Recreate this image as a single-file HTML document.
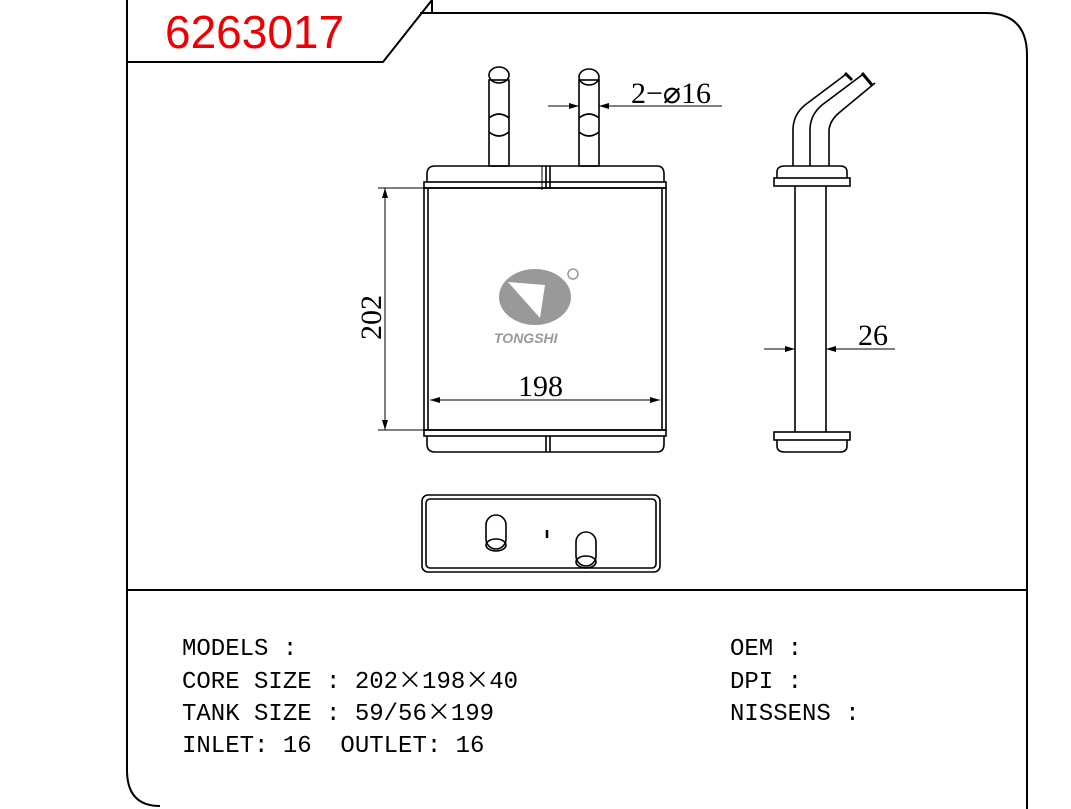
<!DOCTYPE html>
<html><head><style>
body{margin:0;background:#fff;}
svg{display:block}
.t{font-family:"Liberation Mono","Noto Sans CJK SC",monospace;font-size:24px;fill:#000}
.x{font-family:"Noto Sans CJK SC",sans-serif;font-size:24px}
.d{font-family:"Liberation Serif",serif;font-size:30px;fill:#000}
</style></head><body>
<svg width="1071" height="809" viewBox="0 0 1071 809" xmlns="http://www.w3.org/2000/svg">
<g fill="none" stroke="#000" stroke-width="2">
<path d="M127 0 V770 Q127 806 160 806"/>
<path d="M127 62 H383 L432 0"/>
<path d="M420 13 H985 Q1027 13 1027 55 V809"/>
<path d="M432 0 V13"/>
<path d="M127 590 H1027"/>
</g>
<text x="165" y="48" font-family="Liberation Sans,sans-serif" font-size="46" fill="#e00">6263017</text>

<g fill="none" stroke="#000" stroke-width="1.6">
<rect x="489" y="80" width="20" height="86"/>
<ellipse cx="499" cy="75" rx="10" ry="8"/>
<path d="M489 118 Q499 110 509 118 M489 132 Q499 140 509 132"/>
<rect x="579" y="80" width="20" height="86"/>
<ellipse cx="589" cy="77" rx="10" ry="8"/>
<path d="M579 118 Q589 110 599 118 M579 132 Q589 140 599 132"/>
<path d="M427 182 V174 Q427 166 435 166 H657 Q664 166 664 174 V182"/>
<rect x="424" y="182" width="242" height="6"/>
<path d="M546 166 V188 M550 166 V188"/>
<rect x="424" y="188" width="242" height="242"/>
<path d="M428 188 V430 M662 188 V430"/>
<rect x="424" y="430" width="242" height="6"/>
<path d="M427 436 V444 Q427 452 435 452 H657 Q664 452 664 444 V436"/>
<path d="M546 436 V452 M550 436 V452"/>
<rect x="422" y="495" width="238" height="77" rx="6"/>
<rect x="426" y="499" width="230" height="69" rx="4"/>
<rect x="486" y="515" width="20" height="34" rx="10"/>
<ellipse cx="496" cy="545" rx="10" ry="6"/>
<rect x="576" y="532" width="20" height="34" rx="10"/>
<ellipse cx="586" cy="562" rx="10" ry="6"/>
<path d="M547 530 V538" stroke-width="2.5"/>
<path d="M793 166 V130 Q793 115 805 105 L845 75"/>
<path d="M810 166 V130 Q810 115 822 105 L862 75"/>
<path d="M829 166 V130 Q830 120 840 112 L875 83"/>
<path d="M845 73 L852 80 M862 73 L872 85" stroke-width="3"/>
<path d="M777 178 V172 Q777 166 785 166 H840 Q847 166 847 172 V178"/>
<rect x="774" y="178" width="76" height="8"/>
<path d="M795 186 V432 M826 186 V432"/>
<rect x="774" y="432" width="76" height="8"/>
<path d="M777 440 V446 Q777 452 785 452 H840 Q847 452 847 446 V440"/>
</g>
<g stroke="#000" stroke-width="1" fill="none">
<path d="M378 188 H424 M378 430 H424 M385 188 V430"/>
<path d="M430 400 H660 M428 396 V406 M662 396 V406"/>
<path d="M548 106 H579 M599 106 H722"/>
<path d="M764 349 H795 M826 349 H895"/>
<path d="M542 166 V190"/>
</g>
<g fill="#000">
<path d="M385 188 l-3 10 h6z M385 430 l-3 -10 h6z"/>
<path d="M430 400 l10 -3 v6z M660 400 l-10 -3 v6z"/>
<path d="M579 106 l-10 -3 v6z M599 106 l10 -3 v6z"/>
<path d="M795 349 l-10 -3 v6z M826 349 l10 -3 v6z"/>
</g>
<text class="d" x="631" y="103">2−⌀16</text>
<text class="d" x="518" y="396">198</text>
<text class="d" x="858" y="345">26</text>
<text class="d" transform="translate(381 340) rotate(-90)">202</text>
<ellipse cx="535" cy="297" rx="36" ry="28" fill="#999"/>
<path d="M508 282 L545 285 L540 318 Z" fill="#fff"/>
<circle cx="573" cy="274" r="5" fill="none" stroke="#999" stroke-width="1.5"/>
<text x="494" y="343" font-family="Liberation Sans,sans-serif" font-weight="bold" font-style="italic" font-size="14" fill="#999">TONGSHI</text>

<text class="t" x="182" y="655">MODELS :</text>
<text class="t" x="182" y="688">CORE SIZE : 202<tspan class="x">×</tspan>198<tspan class="x">×</tspan>40</text>
<text class="t" x="182" y="720">TANK SIZE : 59/56<tspan class="x">×</tspan>199</text>
<text class="t" x="182" y="752" xml:space="preserve">INLET: 16  OUTLET: 16</text>
<text class="t" x="730" y="655">OEM :</text>
<text class="t" x="730" y="688">DPI :</text>
<text class="t" x="730" y="720">NISSENS :</text>
</svg>
</body></html>
